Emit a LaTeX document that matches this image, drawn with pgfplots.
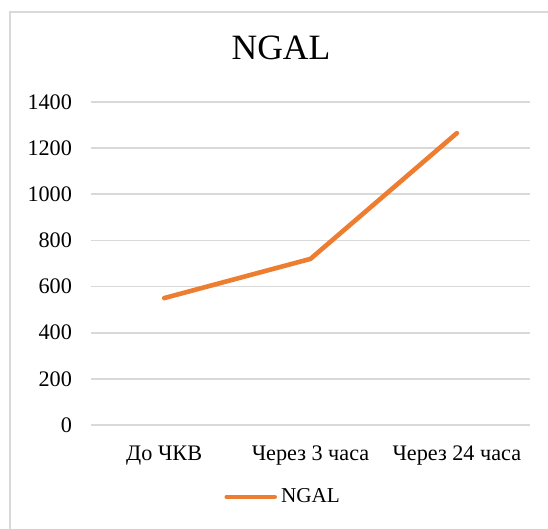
\documentclass[border=0pt]{standalone}
\usepackage{pgfplots}
\pgfplotsset{compat=1.18}
\usepackage{fontspec}
\setmainfont{Liberation Serif}
\definecolor{ngal}{HTML}{ED7D31}
\definecolor{gridc}{HTML}{D9D9D9}
\begin{document}
\begin{tikzpicture}[x=1pt,y=1pt]
\useasboundingbox (0,0) rectangle (274,264.5);
\draw[gridc, line width=0.8pt] (5,0) -- (5,258.5) -- (274,258.5);
\node[font=\fontsize{17.8}{20}\selectfont] at (140.5,240.5) {NGAL};
\begin{axis}[
  at={(45.5pt,52pt)}, anchor=south west,
  scale only axis, width=219.5pt, height=161.5pt,
  xmin=-0.5, xmax=2.5, ymin=0, ymax=1400,
  xtick={0,1,2},
  xticklabels={До ЧКВ, Через 3 часа, Через 24 часа},
  ytick={0,200,...,1400},
  major tick length=0pt,
  axis line style={draw=none},
  ymajorgrids, grid style={gridc, line width=0.8pt},
  /pgf/number format/assume math mode=true,
  /pgf/number format/1000 sep={},
  tick label style={font=\fontsize{11.1}{13}\selectfont},
  yticklabel style={xshift=-6pt},
  xticklabel style={yshift=-7pt},
  legend style={at={(0.44,-0.223)}, anchor=center, draw=none, fill=none,
    font=\fontsize{10.6}{12}\selectfont, inner sep=0pt},
  legend image code/.code={\draw[#1] (0pt,0pt) -- (24pt,0pt);},
  legend cell align=left,
]
\addplot[ngal, line width=2.3pt, line cap=round, line join=round] coordinates {(0,550) (1,720) (2,1265)};
\addlegendentry{NGAL}
\end{axis}
\end{tikzpicture}
\end{document}
